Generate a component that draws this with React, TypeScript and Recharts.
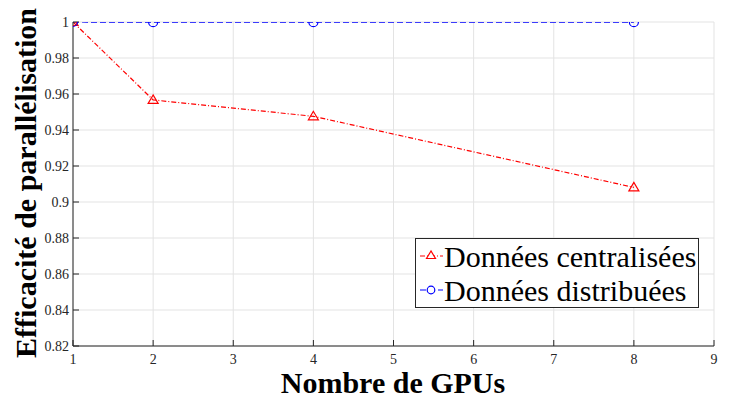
import React from 'react';
import { LineChart, Line, XAxis, YAxis, CartesianGrid, Label } from 'recharts';

const gpus = [1, 2, 4, 8];
const centralisees = [1, 0.9567, 0.9476, 0.9081];
const distribuees = [1, 0.9999, 0.9999, 0.9999];
const xTicks = [1, 2, 3, 4, 5, 6, 7, 8, 9];
const yTicks = [0.82, 0.84, 0.86, 0.88, 0.9, 0.92, 0.94, 0.96, 0.98, 1];
const seriesNames = ['Données centralisées', 'Données distribuées'];

const data = gpus.map((g, i) => ({ g, c: centralisees[i], d: distribuees[i] }));

const FONT = '"Liberation Serif", "Times New Roman", serif';
const AX = '#262626';

const Tri = (props: any) => {
  const { cx, cy } = props;
  if (cx == null || cy == null) return null;
  const r = 5;
  return (
    <polygon
      points={`${cx},${cy - r} ${cx - r},${cy + r * 0.7} ${cx + r},${cy + r * 0.7}`}
      fill="none"
      stroke="#ff0000"
      strokeWidth={1.2}
    />
  );
};
const Circ = (props: any) => {
  const { cx, cy } = props;
  if (cx == null || cy == null) return null;
  return <circle cx={cx} cy={cy} r={4.5} fill="none" stroke="#0000ff" strokeWidth={1.2} />;
};

const fmtY = (v: number) => String(Number(v.toFixed(2)));

const LegendBox = () => (
  <div
    style={{
      position: 'absolute',
      left: 415,
      top: 238,
      border: '1px solid #262626',
      background: '#fff',
      width: 284,
      height: 70,
      fontFamily: FONT,
      fontSize: 30,
      lineHeight: '35px',
      boxSizing: 'border-box',
    }}
  >
    {seriesNames.map((n, i) => (
      <div key={n} style={{ display: 'flex', alignItems: 'center', whiteSpace: 'nowrap', height: 34 }}>
        <svg width={26} height={20} style={{ marginLeft: 2, marginRight: 0 }}>
          <line
            x1={2}
            y1={10}
            x2={25}
            y2={10}
            stroke={i === 0 ? '#ff0000' : '#0000ff'}
            strokeWidth={1.2}
            strokeDasharray={i === 0 ? '5 2 1 2' : '6 3'}
          />
          {i === 0 ? (
            <polygon points="13,5 8.5,12.5 17.5,12.5" fill="#fff" stroke="#ff0000" strokeWidth={1.2} />
          ) : (
            <circle cx={13} cy={10} r={3.8} fill="#fff" stroke="#0000ff" strokeWidth={1.2} />
          )}
        </svg>
        <span style={{ color: '#000' }}>{n}</span>
      </div>
    ))}
  </div>
);

export default function App() {
  return (
    <div style={{ position: 'absolute', left: 0, top: 0, width: 741, height: 400, background: '#fff', fontFamily: FONT }}>
      <LineChart
        width={741}
        height={400}
        data={data}
        margin={{ top: 22, right: 27, bottom: 0, left: 0 }}
        style={{ fontFamily: FONT }}
      >
        <CartesianGrid stroke="#e3e3e3" strokeWidth={1} />
        <XAxis
          dataKey="g"
          type="number"
          domain={[1, 9]}
          ticks={xTicks}
          height={54}
          stroke={AX}
          tickSize={-6}
          tickMargin={14}
          tick={{ fill: '#262626', fontFamily: FONT, fontSize: 14 }}
          allowDataOverflow
        >
          <Label
            content={() => (
              <text
                x={393}
                y={393}
                textAnchor="middle"
                fontFamily={FONT}
                fontWeight="bold"
                fontSize={30}
                fill="#000"
              >
                Nombre de GPUs
              </text>
            )}
          />
        </XAxis>
        <XAxis
          xAxisId="top"
          dataKey="g"
          type="number"
          orientation="top"
          domain={[1, 9]}
          ticks={xTicks}
          height={0}
          stroke={AX}
          tickSize={-6}
          tickFormatter={() => ''}
        />
        <YAxis
          type="number"
          domain={[0.82, 1]}
          ticks={yTicks}
          width={73}
          stroke={AX}
          tickSize={-6}
          tickMargin={10}
          tickFormatter={fmtY}
          tick={{ fill: '#262626', fontFamily: FONT, fontSize: 14 }}
          allowDataOverflow
        >
          <Label
            content={() => (
              <text
                x={0}
                y={0}
                transform="translate(36,183) rotate(-90)"
                textAnchor="middle"
                fontFamily={FONT}
                fontWeight="bold"
                fontSize={30}
                fill="#000"
              >
                Efficacité de parallélisation
              </text>
            )}
          />
        </YAxis>
        <YAxis
          yAxisId="right"
          orientation="right"
          type="number"
          domain={[0.82, 1]}
          ticks={yTicks}
          width={0}
          stroke={AX}
          tickSize={-6}
          tickFormatter={() => ''}
        />
        <Line
          dataKey="c"
          stroke="#ff0000"
          strokeWidth={1.2}
          strokeDasharray="5 2 1 2"
          dot={<Tri />}
          isAnimationActive={false}
        />
        <Line
          dataKey="d"
          stroke="#0000ff"
          strokeWidth={1.2}
          strokeDasharray="6 3"
          dot={<Circ />}
          isAnimationActive={false}
        />
      </LineChart>
      <LegendBox />
    </div>
  );
}
